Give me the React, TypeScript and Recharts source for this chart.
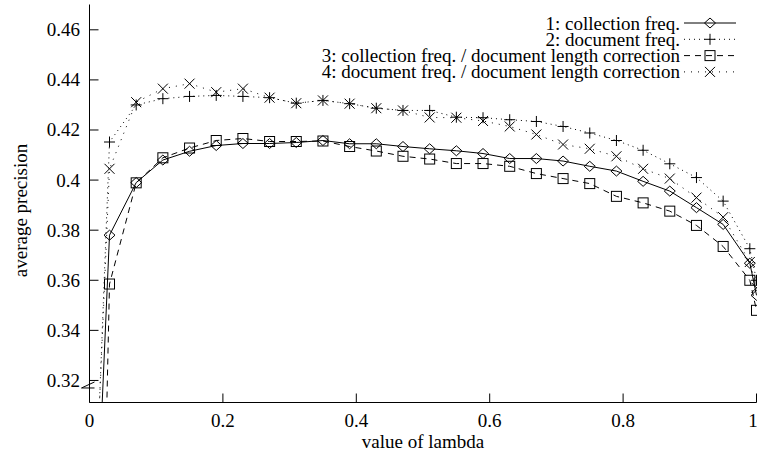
import React from 'react';
import { LineChart, Line, XAxis, YAxis, Legend, ReferenceDot } from 'recharts';

const lambdas = [0.01, 0.03, 0.07, 0.11, 0.15, 0.19, 0.23, 0.27, 0.31, 0.35, 0.39, 0.43, 0.47, 0.51, 0.55, 0.59, 0.63, 0.67, 0.71, 0.75, 0.79, 0.83, 0.87, 0.91, 0.95, 0.99, 1.0];
const collectionFreq = [0.256, 0.378, 0.399, 0.408, 0.4115, 0.4138, 0.4146, 0.4146, 0.415, 0.4158, 0.4145, 0.4145, 0.4134, 0.4125, 0.4117, 0.4106, 0.4086, 0.4086, 0.4076, 0.4055, 0.4036, 0.3995, 0.3956, 0.389, 0.3823, 0.3668, 0.354];
const documentFreq = [0.277, 0.4152, 0.43, 0.4325, 0.4334, 0.4338, 0.4334, 0.4329, 0.4307, 0.4318, 0.4305, 0.4287, 0.4278, 0.4278, 0.4251, 0.4249, 0.4241, 0.4234, 0.4214, 0.4188, 0.4158, 0.4119, 0.4065, 0.401, 0.3916, 0.3726, 0.36];
const collectionFreqLenCorr = [0.12, 0.3585, 0.3989, 0.4089, 0.4128, 0.4158, 0.4166, 0.4154, 0.4154, 0.4156, 0.4134, 0.4116, 0.4095, 0.4084, 0.4066, 0.4066, 0.4055, 0.4026, 0.4006, 0.3986, 0.3935, 0.3909, 0.3876, 0.3819, 0.3735, 0.36, 0.348];
const documentFreqLenCorr = [0.28, 0.4045, 0.4311, 0.4365, 0.4385, 0.4351, 0.4365, 0.4329, 0.4307, 0.4318, 0.4305, 0.4287, 0.4278, 0.425, 0.4249, 0.4236, 0.4214, 0.4182, 0.4142, 0.4125, 0.4095, 0.4045, 0.4006, 0.393, 0.3852, 0.3673, 0.357];

const seriesNames = [
  '1: collection freq.',
  '2: document freq.',
  '3: collection freq. / document length correction',
  '4: document freq. / document length correction',
];
const xTicks = [0, 0.2, 0.4, 0.6, 0.8, 1];
const yTicks = [0.32, 0.34, 0.36, 0.38, 0.4, 0.42, 0.44, 0.46];
const xLabel = 'value of lambda';
const yLabel = 'average precision';

const data = lambdas.map((x, i) => ({
  x,
  s1: collectionFreq[i],
  s2: documentFreq[i],
  s3: collectionFreqLenCorr[i],
  s4: documentFreqLenCorr[i],
}));

const FONT = "'Liberation Serif', 'Times New Roman', serif";
const FS = 19;
const INK = '#000';
const textStyle = { fontFamily: FONT, fontSize: FS };

type Shape = 'diamond' | 'plus' | 'square' | 'cross';
const series: { key: string; name: string; shape: Shape; dash?: string }[] = [
  { key: 's1', name: seriesNames[0], shape: 'diamond' },
  { key: 's2', name: seriesNames[1], shape: 'plus', dash: '1 4' },
  { key: 's3', name: seriesNames[2], shape: 'square', dash: '6 5' },
  { key: 's4', name: seriesNames[3], shape: 'cross', dash: '1 6' },
];

function Marker({ shape, cx, cy }: { shape: Shape; cx?: number; cy?: number }) {
  if (cx == null || cy == null || !isFinite(cx) || !isFinite(cy)) return null;
  const common = { fill: 'none', stroke: INK, strokeWidth: 1 };
  switch (shape) {
    case 'diamond':
      return <path d={`M${cx - 5.5},${cy}L${cx},${cy - 5}L${cx + 5.5},${cy}L${cx},${cy + 5}Z`} {...common} />;
    case 'plus':
      return <path d={`M${cx - 5.5},${cy}H${cx + 5.5}M${cx},${cy - 5.5}V${cy + 5.5}`} {...common} />;
    case 'square':
      return <rect x={cx - 5} y={cy - 5} width={10} height={10} {...common} />;
    case 'cross':
    default:
      return <path d={`M${cx - 5},${cy - 5}L${cx + 5},${cy + 5}M${cx + 5},${cy - 5}L${cx - 5},${cy + 5}`} {...common} />;
  }
}

const renderLegend = () => (
  <svg width={757} height={90} style={{ display: 'block', overflow: 'visible' }}>
    {series.map((s, i) => {
      const y = 23 + i * 16.3;
      return (
        <g key={s.key}>
          <text x={680} y={y} textAnchor="end" dominantBaseline="central" fontFamily={FONT} fontSize={FS} style={textStyle} fill={INK}>
            {s.name}
          </text>
          <line x1={684} x2={736} y1={y} y2={y} stroke={INK} strokeWidth={1} strokeDasharray={s.dash} />
          <Marker shape={s.shape} cx={710} cy={y} />
        </g>
      );
    })}
  </svg>
);

const fmt = (v: number) => String(+Number(v).toFixed(2));

const YTick = (p: any) => (
  <text x={p.x} y={p.y} textAnchor="end" dominantBaseline="central" fontFamily={FONT} fontSize={FS} style={textStyle} fill={INK}>
    {fmt(p.payload.value)}
  </text>
);
const XTick = (p: any) => (
  <text x={p.x} y={p.y} dy="0.71em" textAnchor="middle" fontFamily={FONT} fontSize={FS} style={textStyle} fill={INK}>
    {fmt(p.payload.value)}
  </text>
);
const emptyTick = () => <g />;

const axisLine = { stroke: INK, strokeWidth: 1 };
const tickLine = { stroke: INK, strokeWidth: 1 };
const Y_DOMAIN: [number, number] = [0.3112, 0.4701];

const BreakMark = (p: any) => {
  const { cx, cy } = p;
  if (cx == null || cy == null) return <g />;
  return <path d={`M${cx + 5},${cy - 4}L${cx - 8},${cy + 2}L${cx + 5},${cy + 2}`} fill="none" stroke={INK} strokeWidth={1} />;
};

export default function App() {
  return (
    <div style={{ position: 'absolute', left: 0, top: 0, background: '#fff' }}>
      <LineChart width={757} height={458} data={data} margin={{ top: 4.5, right: 0.5, bottom: 0, left: 0 }}>
        <XAxis
          dataKey="x"
          type="number"
          domain={[0, 1]}
          ticks={xTicks}
          height={55.5}
          tickSize={-9}
          tickMargin={20}
          tick={XTick}
          axisLine={axisLine}
          tickLine={tickLine}
          label={{
            content: (p: any) => {
              const vb = p.viewBox || { x: 89.5, y: 402.5, width: 667 };
              return (
                <text x={vb.x + vb.width / 2} y={vb.y + 39} textAnchor="middle" dominantBaseline="central" fontFamily={FONT} fontSize={FS} style={textStyle} fill={INK}>
                  {xLabel}
                </text>
              );
            },
          }}
        />
        <XAxis
          xAxisId="top"
          orientation="top"
          dataKey="x"
          type="number"
          domain={[0, 1]}
          ticks={xTicks}
          height={0}
          tickSize={-9}
          tick={emptyTick}
          axisLine={axisLine}
          tickLine={tickLine}
        />
        <YAxis
          type="number"
          domain={Y_DOMAIN}
          allowDataOverflow
          ticks={yTicks}
          width={89.5}
          tickSize={-9}
          tickMargin={18.5}
          tick={YTick}
          axisLine={axisLine}
          tickLine={tickLine}
          label={{
            content: (p: any) => {
              const vb = p.viewBox || { x: 0, y: 4.5, height: 398 };
              const x = vb.x + 20;
              const y = vb.y + vb.height / 2 + 7;
              return (
                <text x={x} y={y} transform={`rotate(-90 ${x} ${y})`} textAnchor="middle" dominantBaseline="central" fontFamily={FONT} fontSize={FS} style={textStyle} fill={INK}>
                  {yLabel}
                </text>
              );
            },
          }}
        />
        <YAxis
          yAxisId="right"
          orientation="right"
          type="number"
          domain={Y_DOMAIN}
          allowDataOverflow
          ticks={yTicks}
          width={0}
          tickSize={-9}
          tick={emptyTick}
          axisLine={axisLine}
          tickLine={tickLine}
        />
        <Legend content={renderLegend} layout="horizontal" verticalAlign="middle" align="center" wrapperStyle={{ left: 0, top: 0, width: 757, height: 90 }} />
        {series.map((s) => (
          <Line
            key={s.key}
            dataKey={s.key}
            name={s.name}
            type="linear"
            stroke={INK}
            strokeWidth={1}
            strokeDasharray={s.dash}
            isAnimationActive={false}
            activeDot={false}
            dot={(p: any) => <Marker key={`${s.key}-${p.index}`} shape={s.shape} cx={p.cx} cy={p.cy} />}
          />
        ))}
        <ReferenceDot x={0} y={0.3178} ifOverflow="visible" shape={BreakMark} />
      </LineChart>
    </div>
  );
}
